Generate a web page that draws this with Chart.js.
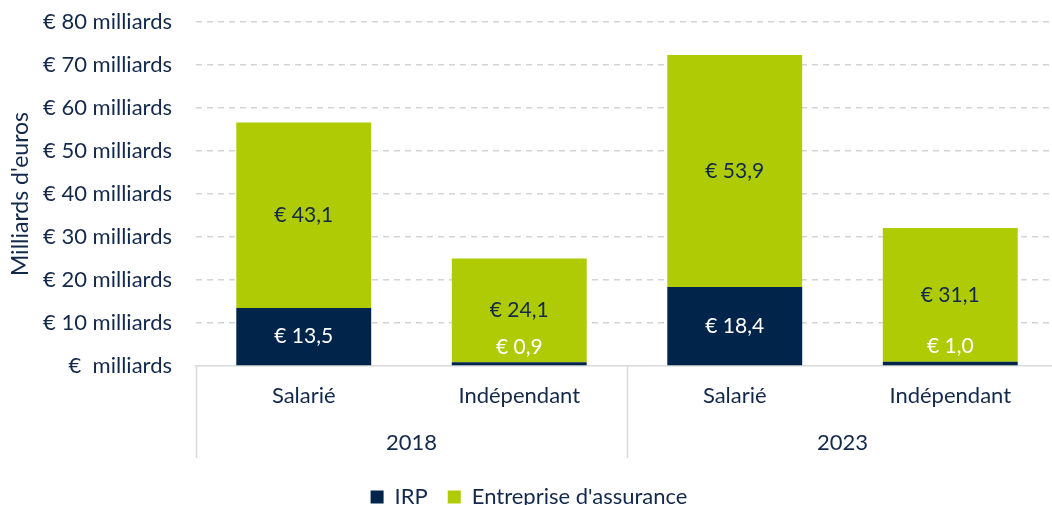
<!DOCTYPE html>
<html>
<head>
<meta charset="utf-8">
<script src="https://cdn.jsdelivr.net/npm/chart.js@4.4.1/dist/chart.umd.min.js"></script>
<style>
  html, body { margin: 0; padding: 0; overflow: hidden; background: #fff; }
  #wrap { width: 1060px; height: 518px; }
</style>
</head>
<body>
<div id="wrap"><canvas id="chart"></canvas></div>
<script>
// data
const categories = ['Salarié', 'Indépendant', 'Salarié', 'Indépendant'];
const years = ['2018', '2023'];
const irp = [13.5, 0.9, 18.4, 1.0];
const assurance = [43.1, 24.1, 53.9, 31.1];

const navy = '#00244A';
const green = '#AECB05';
const textCol = '#13294B';
const font = 'Lato, "Open Sans", sans-serif';

const euro = (v) => '€ ' + v.toFixed(1).replace('.', ',');

// value labels inside the stacked bars
const barLabels = {
  id: 'barLabels',
  afterDatasetsDraw(chart) {
    const ctx = chart.ctx;
    ctx.save();
    ctx.font = '21px ' + font;
    ctx.textAlign = 'center';
    ctx.textBaseline = 'middle';
    chart.data.datasets.forEach((ds, i) => {
      chart.getDatasetMeta(i).data.forEach((el, j) => {
        const h = Math.abs(el.base - el.y);
        let y = (el.y + el.base) / 2;
        if (h < 20) y = el.y - 15;
        ctx.fillStyle = i === 0 ? '#ffffff' : textCol;
        ctx.fillText(euro(ds.data[j]), el.x, y);
      });
    });
    ctx.restore();
  }
};

// separator lines of the two-level category axis
const groupLines = {
  id: 'groupLines',
  afterDraw(chart) {
    const ctx = chart.ctx;
    const x = chart.scales.x;
    const top = chart.chartArea.bottom;
    ctx.save();
    ctx.strokeStyle = '#d9d9d9';
    ctx.lineWidth = 1.5;
    [-0.5, 1.5, 3.5].forEach((v) => {
      const px = Math.round(x.getPixelForValue(v)) + 0.5;
      ctx.beginPath();
      ctx.moveTo(px, top);
      ctx.lineTo(px, top + 92);
      ctx.stroke();
    });
    ctx.restore();
  }
};

new Chart(document.getElementById('chart'), {
  type: 'bar',
  data: {
    labels: categories,
    datasets: [
      { label: 'IRP', data: irp, backgroundColor: navy },
      { label: "Entreprise d'assurance", data: assurance, backgroundColor: green }
    ]
  },
  options: {
    responsive: true,
    maintainAspectRatio: false,
    animation: false,
    layout: { padding: { top: 22, right: 2, bottom: 0, left: 0 } },
    datasets: {
      bar: { categoryPercentage: 1, barPercentage: 0.626 }
    },
    scales: {
      x: {
        stacked: true,
        weight: 0,
        afterFit(s) { s.height = 42; },
        grid: { display: false, drawTicks: false },
        border: { display: true, color: '#d9d9d9', width: 1.5 },
        ticks: { color: textCol, font: { family: font, size: 22 }, padding: 17 }
      },
      x2: {
        type: 'category',
        labels: years,
        position: 'bottom',
        offset: true,
        weight: 1,
        afterFit(s) { s.height = 58; },
        grid: { display: false, drawTicks: false },
        border: { display: false },
        ticks: { color: textCol, font: { family: font, size: 22 }, padding: 22 }
      },
      y: {
        stacked: true,
        min: 0,
        max: 80,
        afterFit(s) {
          s.width = 196;
          s.paddingTop = 0;
        },
        grid: {
          drawTicks: false,
          color: (c) => c.tick.value === 0 ? 'rgba(0,0,0,0)' : '#d4d4d4',
          lineWidth: 1.5
        },
        border: { display: false, dash: [6, 5] },
        ticks: {
          stepSize: 10,
          padding: 24,
          color: textCol,
          font: { family: font, size: 22 },
          callback: (v) => v === 0 ? '€  milliards' : '€ ' + v + ' milliards'
        },
        title: {
          display: true,
          text: "Milliards d'euros",
          color: textCol,
          font: { family: font, size: 23 },
          padding: { top: 7, bottom: 0 }
        }
      }
    },
    plugins: {
      legend: {
        position: 'bottom',
        labels: {
          color: textCol,
          font: { family: font, size: 22 },
          boxWidth: 13,
          boxHeight: 13,
          padding: 20
        }
      },
      tooltip: { enabled: false }
    }
  },
  plugins: [barLabels, groupLines]
});
</script>
</body>
</html>
